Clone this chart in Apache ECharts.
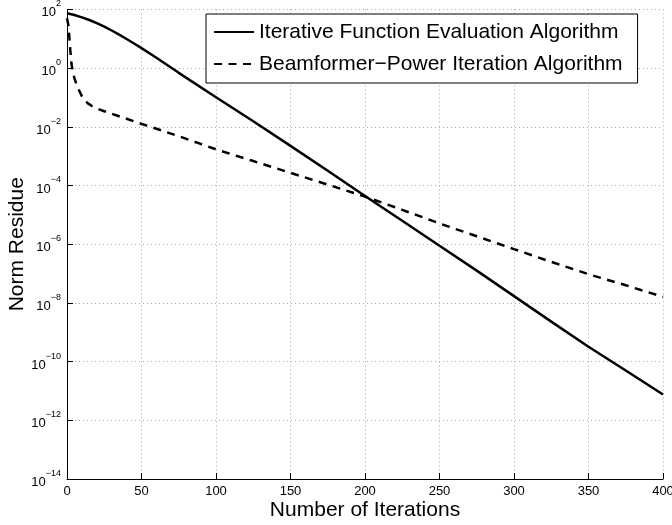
<!DOCTYPE html>
<html>
<head>
<meta charset="utf-8">
<script src="https://cdn.jsdelivr.net/npm/echarts@6/dist/echarts.min.js"></script>
<style>
html,body{margin:0;padding:0;background:#fff;}
#chart{width:672px;height:525px;}
</style>
</head>
<body>
<div id="chart"></div>
<script>
// Data
const seriesNames = ['Iterative Function Evaluation Algorithm', 'Beamformer\u2212Power Iteration Algorithm'];

const ifeIter = [0, 5, 10, 15, 20, 25, 30, 35, 40, 45, 50, 60, 75, 100, 125, 150, 175, 200, 225, 250, 275, 300, 325, 350, 375, 400];
const ifeResidue = [74, 64.6, 53.7, 43.6, 33.9, 25.7, 19.1, 13.8, 9.8, 6.9, 4.8, 2.24, 0.69, 0.102, 0.0155, 2.24e-3, 3.16e-4, 4.4e-5, 6.3e-6, 8.9e-7, 1.26e-7, 1.7e-8, 2.3e-9, 3.2e-10, 4.95e-11, 7.6e-12];

const bpiIter = [0, 1, 2, 3, 4, 5, 6, 8, 10, 12, 14, 17, 20, 25, 50, 75, 100, 125, 150, 175, 200, 225, 250, 275, 300, 325, 350, 375, 400];
const bpiResidue = [50, 28, 5.6, 1.4, 0.71, 0.45, 0.32, 0.18, 0.11, 0.079, 0.063, 0.05, 0.042, 0.034, 0.0126, 4.8e-3, 1.7e-3, 6.8e-4, 2.7e-4, 1.07e-4, 4.2e-5, 1.48e-5, 5.1e-6, 1.86e-6, 6.8e-7, 2.5e-7, 9.5e-8, 4.0e-8, 1.6e-8];

const xTicks = [0, 50, 100, 150, 200, 250, 300, 350, 400];
const yExponents = [2, 0, -2, -4, -6, -8, -10, -12, -14];

const xTitle = 'Number of Iterations';
const yTitle = 'Norm Residue';

const FONT = "'Liberation Sans', Arial, Helvetica, sans-serif";

const chart = echarts.init(document.getElementById('chart'), null, {renderer: 'canvas'});

function zip(xs, ys) { return xs.map((x, i) => [x, ys[i]]); }

const option = {
  backgroundColor: '#fff',
  animation: false,
  grid: {left: 67, right: 9, top: 9.4, bottom: 46, containLabel: false, outerBoundsMode: 'none'},
  legend: {
    orient: 'vertical',
    left: 206,
    top: 14,
    padding: [6, 15, 7, 7],
    itemGap: 8,
    itemWidth: 40,
    itemHeight: 14,
    borderColor: '#000',
    borderWidth: 1,
    borderRadius: 0,
    backgroundColor: '#fff',
    itemStyle: {opacity: 0},
    textStyle: {fontFamily: FONT, fontSize: 21, color: '#000', lineHeight: 24},
    data: seriesNames
  },
  xAxis: {
    type: 'value',
    min: xTicks[0],
    max: xTicks[xTicks.length - 1],
    interval: xTicks[1] - xTicks[0],
    name: xTitle,
    nameLocation: 'middle',
    nameGap: 21,
    nameMoveOverlap: false,
    nameTextStyle: {fontFamily: FONT, fontSize: 21, color: '#000'},
    axisLine: {show: true, onZero: false, lineStyle: {color: '#000', width: 1}},
    axisTick: {show: true, inside: true, length: 6, lineStyle: {color: '#000'}},
    axisLabel: {fontFamily: FONT, fontSize: 13, color: '#000', margin: 6},
    splitLine: {show: true, lineStyle: {color: '#a8a8a8', type: [1, 3], width: 1}}
  },
  yAxis: {
    type: 'log',
    logBase: 10,
    min: Math.pow(10, yExponents[yExponents.length - 1]),
    max: Math.pow(10, yExponents[0]),
    interval: 2,
    name: yTitle,
    nameLocation: 'middle',
    nameGap: 39,
    nameMoveOverlap: false,
    nameTextStyle: {fontFamily: FONT, fontSize: 21, color: '#000'},
    axisLine: {show: true, onZero: false, lineStyle: {color: '#000', width: 1}},
    axisTick: {show: true, inside: true, length: 6, lineStyle: {color: '#000'}},
    minorTick: {show: false},
    axisLabel: {
      margin: 6,
      formatter: function (v) {
        const e = Math.round(Math.log10(v));
        const s = e < 0 ? '\u2212' + (-e) : String(e);
        return '{b|10}{s|' + s + '}';
      },
      rich: {
        b: {fontFamily: FONT, fontSize: 13, color: '#000', lineHeight: 20, verticalAlign: 'bottom'},
        s: {fontFamily: FONT, fontSize: 9, color: '#000', lineHeight: 10, verticalAlign: 'top'}
      }
    },
    splitLine: {show: true, lineStyle: {color: '#a8a8a8', type: [1, 3], width: 1}}
  },
  series: [
    {
      name: seriesNames[0],
      type: 'line',
      data: zip(ifeIter, ifeResidue),
      symbol: 'none',
      smooth: false,
      lineStyle: {color: '#000', width: 2.5, type: 'solid'},
      itemStyle: {color: '#000'},
      z: 3
    },
    {
      name: seriesNames[1],
      type: 'line',
      data: zip(bpiIter, bpiResidue),
      symbol: 'none',
      smooth: false,
      lineStyle: {color: '#000', width: 2.5, type: [8, 6.5]},
      itemStyle: {color: '#000'},
      z: 2
    }
  ]
};

chart.setOption(option);
</script>
</body>
</html>
